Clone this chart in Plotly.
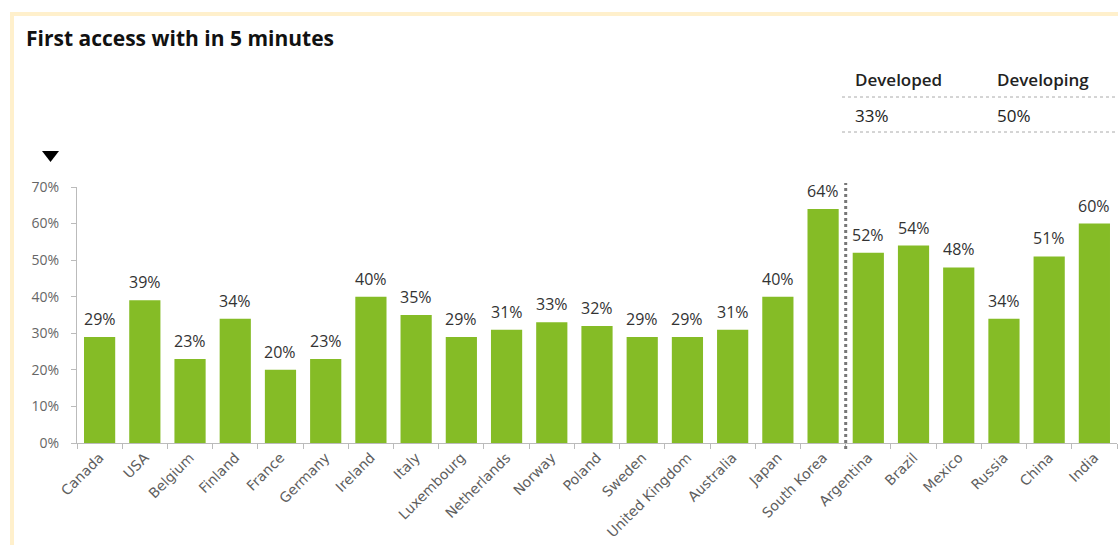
import plotly.graph_objects as go

countries = ["Canada", "USA", "Belgium", "Finland", "France", "Germany", "Ireland",
             "Italy", "Luxembourg", "Netherlands", "Norway", "Poland", "Sweden",
             "United Kingdom", "Australia", "Japan", "South Korea", "Argentina",
             "Brazil", "Mexico", "Russia", "China", "India"]
values = [29, 39, 23, 34, 20, 23, 40, 35, 29, 31, 33, 32, 29, 29, 31, 40, 64,
          52, 54, 48, 34, 51, 60]
n_developed = 17
summary_headers = ["Developed", "Developing"]
summary_values = ["33%", "50%"]
title_text = "First access with in 5 minutes"

W, H = 1118, 545
ML, MR, MT, MB = 77, 1, 187, 102
PW, PH = W - ML - MR, H - MT - MB

def px(x):
    return (x - ML) / PW

def py(y):
    return (H - MB - y) / PH

FONT = "Open Sans"
GREEN = "#85BC26"

fig = go.Figure()
fig.add_trace(go.Bar(
    x=countries, y=values, marker=dict(color=GREEN, line=dict(width=0)),
    hoverinfo="x+y",
))

annotations = []
for c, v in zip(countries, values):
    annotations.append(dict(x=c, y=v, xref="x", yref="y", text=f"{v}%",
                            showarrow=False, yanchor="bottom", yshift=5,
                            font=dict(family=FONT, size=16, color="#333333")))

annotations.append(dict(x=px(24), y=py(38), xref="paper", yref="paper",
                        text=title_text, showarrow=False,
                        xanchor="left", yanchor="middle",
                        font=dict(family=FONT, size=21, color="#111111", weight=700)))

col_x = [853, 995]
for cx, hdr, val in zip(col_x, summary_headers, summary_values):
    annotations.append(dict(x=px(cx), y=py(79), xref="paper", yref="paper",
                            text=hdr, showarrow=False,
                            xanchor="left", yanchor="middle",
                            font=dict(family=FONT, size=17, color="#222222", weight=600)))
    annotations.append(dict(x=px(cx), y=py(115), xref="paper", yref="paper",
                            text=val, showarrow=False,
                            xanchor="left", yanchor="middle",
                            font=dict(family=FONT, size=17, color="#222222")))

shapes = []
# frame
BORDER = "#FFF0CC"
shapes.append(dict(type="line", xref="paper", yref="paper",
                   x0=px(12), x1=px(12), y0=py(12), y1=py(H + 5),
                   line=dict(color=BORDER, width=4)))
shapes.append(dict(type="line", xref="paper", yref="paper",
                   x0=px(10), x1=px(W + 5), y0=py(14), y1=py(14),
                   line=dict(color=BORDER, width=4)))
# table rules
for yy in (97, 132):
    shapes.append(dict(type="line", xref="paper", yref="paper",
                       x0=px(842), x1=px(W + 5), y0=py(yy), y1=py(yy),
                       line=dict(color="#AAAAAA", width=1, dash="dot")))
# triangle marker
shapes.append(dict(type="path", xref="paper", yref="paper",
                   path=f"M {px(42)} {py(151)} L {px(59)} {py(151)} L {px(50.5)} {py(162)} Z",
                   fillcolor="#000000", line=dict(width=0)))
# separator between developed and developing
shapes.append(dict(type="line", xref="x", yref="paper",
                   x0=n_developed - 0.5, x1=n_developed - 0.5,
                   y0=py(449), y1=py(183),
                   line=dict(color="#777777", width=3, dash="dot")))

fig.update_layout(
    width=W, height=H,
    margin=dict(l=ML, r=MR, t=MT, b=MB, autoexpand=False),
    paper_bgcolor="white", plot_bgcolor="white",
    bargap=0.31, showlegend=False,
    font=dict(family=FONT, color="#666666"),
    annotations=annotations, shapes=shapes,
    xaxis=dict(
        tickangle=-45, tickfont=dict(family="DejaVu Sans", size=14, color="#5f5f5f"),
        showline=True, linecolor="#BBBBBB", linewidth=1,
        ticks="outside", tickson="boundaries", ticklen=5, tickcolor="#BBBBBB",
        showgrid=False, fixedrange=True,
    ),
    yaxis=dict(
        range=[0, 70], dtick=10, ticksuffix="%",
        tickfont=dict(size=14, color="#666666"),
        showline=True, linecolor="#BBBBBB", linewidth=1,
        ticks="outside", ticklen=5, tickcolor="#BBBBBB",
        showgrid=False, zeroline=False, fixedrange=True,
        ticklabelstandoff=9,
    ),
)

fig.write_html("out.html", config={"displayModeBar": False})
